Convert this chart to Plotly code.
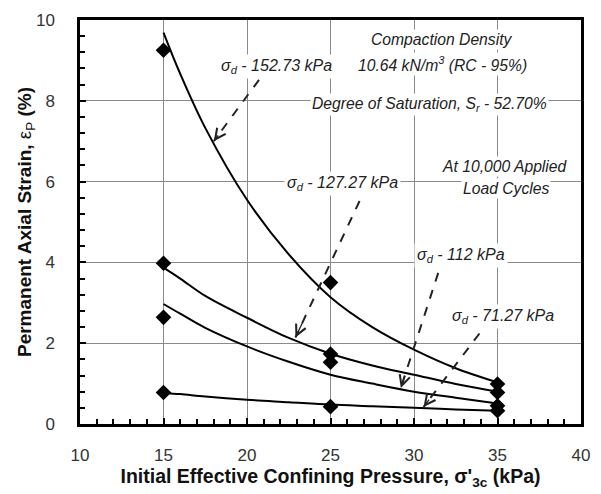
import plotly.graph_objects as go

# Measured data points (diamonds)
x_pts = [15, 25, 35]
y_152 = [9.25, 3.50, 0.99]
y_127 = [3.98, 1.73, 0.78]
y_112 = [2.64, 1.53, 0.45]
y_71 = [0.78, 0.43, 0.33]

# Trend curves
x_curve = [15, 16, 17.5, 20, 22.5, 25, 27.5, 30, 32.5, 35]
c_152 = [9.69, 8.67, 7.33, 5.55, 4.20, 3.14, 2.40, 1.84, 1.38, 1.03]
c_127 = [3.87, 3.60, 3.17, 2.63, 2.13, 1.74, 1.45, 1.22, 0.99, 0.80]
c_112 = [2.97, 2.73, 2.38, 1.92, 1.54, 1.22, 1.00, 0.80, 0.65, 0.51]
c_71 = [0.77, 0.74, 0.68, 0.60, 0.54, 0.48, 0.44, 0.40, 0.36, 0.33]

labels = ["σ<sub>d</sub> - 152.73 kPa", "σ<sub>d</sub> - 127.27 kPa",
          "σ<sub>d</sub> - 112 kPa", "σ<sub>d</sub> - 71.27 kPa"]
label_pos = [(21.75, 8.86), (25.7, 5.96), (32.8, 4.16), (35.35, 2.66)]
arrow_tail = [(20.72, 8.52), (26.74, 5.52), (31.45, 3.74), (33.92, 2.24)]
arrow_head = [(18.01, 7.0), (22.9, 2.14), (29.21, 0.89), (30.57, 0.42)]

fig = go.Figure()
for cy in [c_152, c_127, c_112, c_71]:
    fig.add_trace(go.Scatter(x=x_curve, y=cy, mode="lines", line=dict(color="black", width=2, shape="spline"),
                             showlegend=False, hoverinfo="skip"))
for py in [y_152, y_127, y_112, y_71]:
    fig.add_trace(go.Scatter(x=x_pts, y=py, mode="markers",
                             marker=dict(symbol="diamond", size=12, color="black"), showlegend=False))

FONT = "Liberation Sans, Arial, sans-serif"

for (tx, ty), (hx, hy) in zip(arrow_tail, arrow_head):
    fig.add_shape(type="line", x0=tx, y0=ty, x1=hx, y1=hy, xref="x", yref="y",
                  line=dict(color="#222", width=2, dash="dash"))
    fig.add_annotation(x=hx, y=hy, ax=hx + 0.12 * (tx - hx), ay=hy + 0.12 * (ty - hy),
                       axref="x", ayref="y", xref="x", yref="y", text="", showarrow=True,
                       arrowhead=5, arrowsize=1.6, arrowwidth=1.3, arrowcolor="#222")

for txt, (lx, ly) in zip(labels, label_pos):
    fig.add_annotation(x=lx, y=ly, text=f"<i>{txt}</i>", showarrow=False, bgcolor="white",
                       font=dict(family=FONT, size=16, color="#222"), borderpad=2)

notes = [("<i>Compaction Density</i>", 31.7, 9.51),
         ("<i>10.64 kN/m<sup>3</sup> (RC - 95%)</i>", 31.7, 8.92),
         ("<i>Degree of Saturation, S<sub>r</sub> - 52.70%</i>", 30.9, 7.91),
         ("<i>At 10,000 Applied</i>", 35.45, 6.38),
         ("<i>Load Cycles</i>", 35.5, 5.84)]
for txt, nx, ny in notes:
    fig.add_annotation(x=nx, y=ny, text=txt, showarrow=False, bgcolor="white",
                       font=dict(family=FONT, size=15.7, color="#222"), borderpad=1)

fig.update_xaxes(range=[10, 40], dtick=5, tick0=10, showgrid=True, gridcolor="#8a8a8a", gridwidth=1,
                 showline=True, linecolor="black", linewidth=2.5, mirror=True,
                 ticks="inside", ticklen=6, tickwidth=2, tickcolor="black",
                 minor=dict(dtick=1, ticks="inside", ticklen=5, tickwidth=2, tickcolor="black", showgrid=False),
                 tickfont=dict(family=FONT, size=17, color="#333"), ticklabelstandoff=14,
                 zeroline=False,
                 title=dict(text="Initial Effective Confining Pressure, σ'<sub>3c</sub> (kPa)",
                            font=dict(family=FONT, size=19.5, color="#111", weight="bold"), standoff=4))
fig.update_yaxes(range=[0, 10], dtick=2, tick0=0, showgrid=True, gridcolor="#8a8a8a", gridwidth=1,
                 showline=True, linecolor="black", linewidth=2.5, mirror=True,
                 ticks="inside", ticklen=6, tickwidth=2, tickcolor="black",
                 minor=dict(dtick=0.4, ticks="inside", ticklen=5, tickwidth=2, tickcolor="black", showgrid=False),
                 tickfont=dict(family=FONT, size=17, color="#333"), ticklabelstandoff=19,
                 zeroline=False,
                 title=dict(text="Permanent Axial Strain, <span style='font-weight:normal'>ε<sub>P</sub></span> (%)",
                            font=dict(family=FONT, size=19, color="#111", weight="bold"), standoff=0))

fig.update_layout(width=601, height=494, margin=dict(l=80, r=11, t=17, b=70),
                  paper_bgcolor="white", plot_bgcolor="white", showlegend=False)

fig.write_html("out.html")
